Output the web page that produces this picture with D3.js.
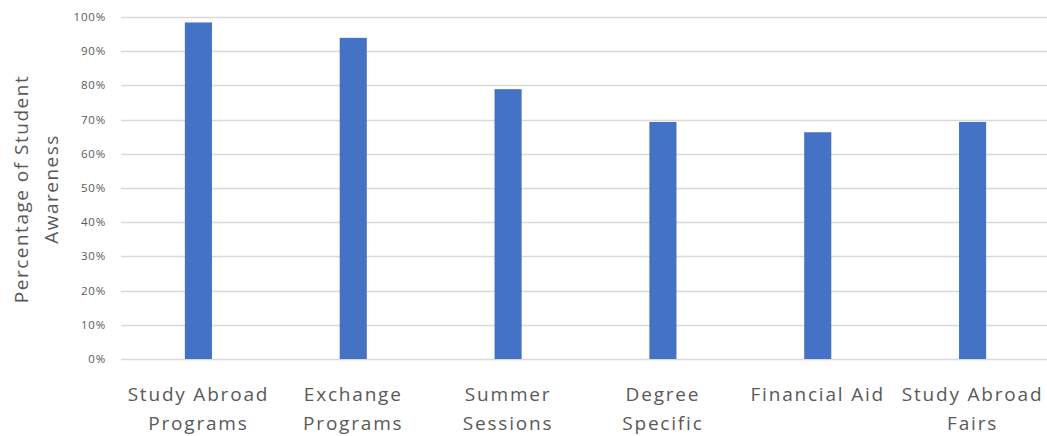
<!DOCTYPE html>
<html>
<head>
<meta charset="utf-8">
<script src="https://cdn.jsdelivr.net/npm/d3@7"></script>
<style>
  body { margin: 0; background: #fff; }
  text { font-family: "Open Sans", sans-serif; fill: #595959; }
</style>
</head>
<body>
<div id="chart"></div>
<script>
let categories = [
  ["Study Abroad", "Programs"],
  ["Exchange", "Programs"],
  ["Summer", "Sessions"],
  ["Degree", "Specific"],
  ["Financial Aid"],
  ["Study Abroad", "Fairs"]
];
let awareness = [0.984, 0.939, 0.789, 0.693, 0.663, 0.693];
let yTicks = [0, 0.1, 0.2, 0.3, 0.4, 0.5, 0.6, 0.7, 0.8, 0.9, 1.0];

let width = 1047, height = 436;
let margin = { top: 17, bottom: 77, left: 121, right: -3 };

let svg = d3.select("#chart")
  .append("svg")
  .attr("width", width)
  .attr("height", height);

let keys = categories.map(c => c.join(" "));

let x = d3.scaleBand()
  .domain(keys)
  .range([margin.left, width - margin.right])
  .paddingInner(0.825)
  .paddingOuter(0.4125);

let y = d3.scaleLinear()
  .domain([0, 1])
  .range([height - margin.bottom, margin.top]);

// gridlines
svg.append("g")
  .selectAll("line")
  .data(yTicks)
  .enter()
  .append("line")
  .attr("x1", margin.left)
  .attr("x2", width)
  .attr("y1", d => Math.round(y(d)) + 0.5)
  .attr("y2", d => Math.round(y(d)) + 0.5)
  .attr("stroke", "#d9d9d9")
  .attr("stroke-width", 1.3);

// tick labels
svg.append("g")
  .selectAll("text")
  .data(yTicks)
  .enter()
  .append("text")
  .attr("x", 106)
  .attr("y", d => y(d))
  .attr("dy", "0.35em")
  .attr("text-anchor", "end")
  .style("font-size", "11.5px")
  .style("letter-spacing", "0.8px")
  .text(d => d3.format(".0%")(d));

// bars
svg.append("g")
  .selectAll("rect")
  .data(awareness)
  .enter()
  .append("rect")
  .attr("x", (d, i) => x(keys[i]))
  .attr("width", x.bandwidth())
  .attr("y", d => y(d))
  .attr("height", d => y(0) - y(d))
  .attr("fill", "#4472c4");

// category labels
let cat = svg.append("g")
  .selectAll("text")
  .data(categories)
  .enter()
  .append("text")
  .attr("text-anchor", "middle")
  .attr("transform", (d, i) => "translate(" + (x(keys[i]) + x.bandwidth() / 2) + ",401)")
  .style("font-size", "19px")
  .style("letter-spacing", "1.8px");

cat.selectAll("tspan")
  .data(d => d)
  .enter()
  .append("tspan")
  .attr("x", 0)
  .attr("dy", (d, i) => i === 0 ? 0 : 29)
  .text(d => d);

// y axis title
svg.append("text")
  .attr("transform", "translate(28,189) rotate(-90)")
  .attr("text-anchor", "middle")
  .style("font-size", "19px")
  .style("letter-spacing", "1.5px")
  .selectAll("tspan")
  .data(["Percentage of Student", "Awareness"])
  .enter()
  .append("tspan")
  .attr("x", 0)
  .attr("dy", (d, i) => i === 0 ? 0 : 30)
  .text(d => d);
</script>
</body>
</html>
